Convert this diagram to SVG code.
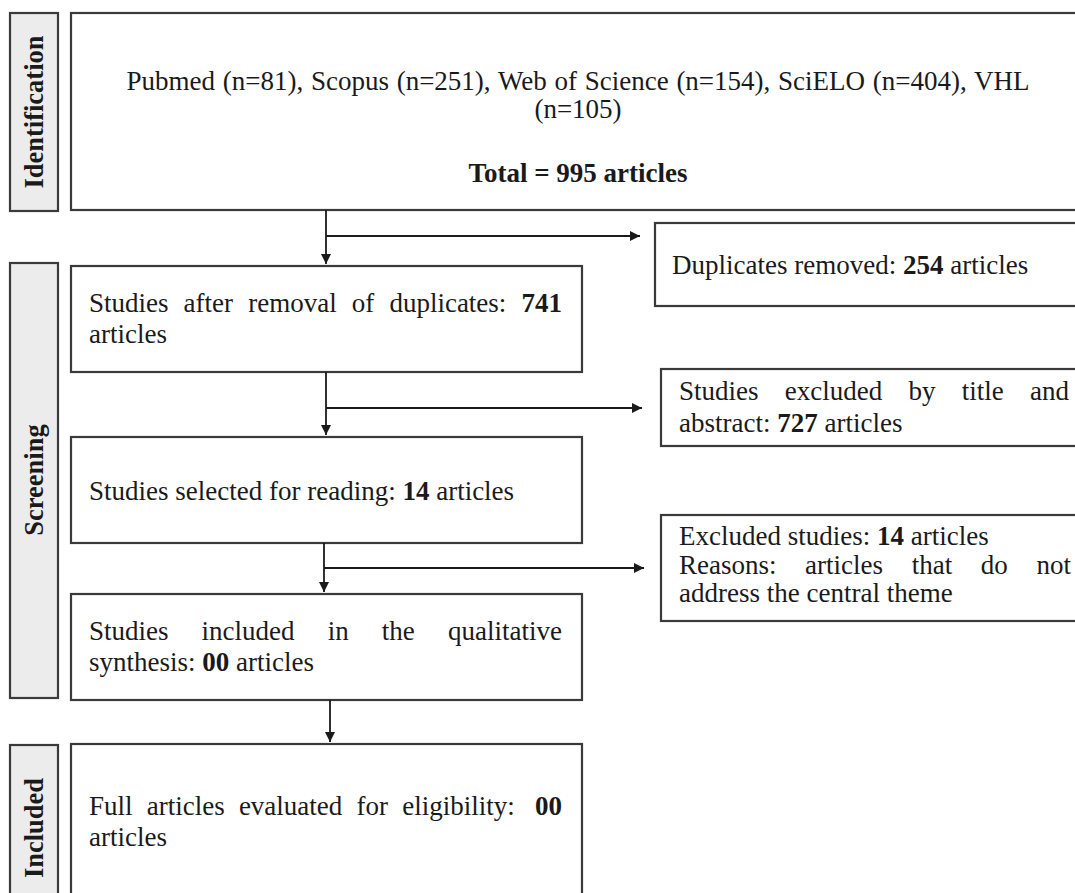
<svg xmlns="http://www.w3.org/2000/svg" width="1075" height="893" viewBox="0 0 1075 893">
<defs>
<style>
.box{fill:#fff;stroke:#3a3a3a;stroke-width:2.2}
.lab{fill:#ececec;stroke:#3a3a3a;stroke-width:2.2}
.t{font-family:"Liberation Serif","Times New Roman",serif;font-size:27px;fill:#1a1a1a}
.b{font-weight:bold}
.lt{font-family:"Liberation Serif","Times New Roman",serif;font-size:26.5px;font-weight:bold;fill:#1a1a1a}
.c{fill:none;stroke:#1a1a1a;stroke-width:1.8}
</style>
<marker id="ah" viewBox="0 0 10 10" refX="10" refY="5" markerWidth="10" markerHeight="10" markerUnits="userSpaceOnUse" orient="auto">
<path d="M0,0 L10,5 L0,10 Z" fill="#1a1a1a"/>
</marker>
</defs>
<rect width="1075" height="893" fill="#fff"/>

<g id="label-identification">
<rect class="lab" x="10" y="13" width="48" height="198"/>
<text class="lt" transform="translate(43,112) rotate(-90)" text-anchor="middle">Identification</text>
</g>
<g id="label-screening">
<rect class="lab" x="10" y="263" width="48" height="435"/>
<text class="lt" transform="translate(43,480) rotate(-90)" text-anchor="middle">Screening</text>
</g>
<g id="label-included">
<rect class="lab" x="10" y="745" width="48" height="170"/>
<text class="lt" transform="translate(43,828) rotate(-90)" text-anchor="middle">Included</text>
</g>

<g id="identification">
<rect class="box" x="71" y="13" width="1014" height="197"/>
<text class="t" x="578" y="90" text-anchor="middle" word-spacing="1">Pubmed (n=81), Scopus (n=251), Web of Science (n=154), SciELO (n=404), VHL</text>
<text class="t" x="578" y="118" text-anchor="middle">(n=105)</text>
<text class="t b" x="578" y="182" text-anchor="middle">Total = 995 articles</text>
</g>

<g id="duplicates">
<rect class="box" x="655" y="223" width="430" height="83"/>
<text class="t" x="672" y="274">Duplicates removed: <tspan class="b">254</tspan> articles</text>
</g>

<g id="after-duplicates">
<rect class="box" x="71" y="266" width="511" height="106"/>
<text class="t" y="312"><tspan x="89">Studies</tspan><tspan x="183.6">after</tspan><tspan x="248.2">removal</tspan><tspan x="351.8">of</tspan><tspan x="389.4">duplicates:</tspan><tspan x="521.5" class="b">741</tspan></text>
<text class="t" x="89" y="343">articles</text>
</g>

<g id="excluded-title">
<rect class="box" x="661" y="369" width="430" height="77"/>
<text class="t" y="400"><tspan x="679">Studies</tspan><tspan x="784.7">excluded</tspan><tspan x="908.5">by</tspan><tspan x="961.8">title</tspan><tspan x="1030">and</tspan></text>
<text class="t" x="679" y="432">abstract: <tspan class="b">727</tspan> articles</text>
</g>

<g id="selected">
<rect class="box" x="71" y="437" width="511" height="106"/>
<text class="t" x="89" y="500">Studies selected for reading: <tspan class="b">14</tspan> articles</text>
</g>

<g id="excluded-studies">
<rect class="box" x="661" y="515" width="430" height="106"/>
<text class="t" x="679" y="545">Excluded studies: <tspan class="b">14</tspan> articles</text>
<text class="t" y="574"><tspan x="679">Reasons:</tspan><tspan x="805.1">articles</tspan><tspan x="911.7">that</tspan><tspan x="980.8">do</tspan><tspan x="1036.5">not</tspan></text>
<text class="t" x="679" y="602">address the central theme</text>
</g>

<g id="qualitative">
<rect class="box" x="71" y="594" width="511" height="106"/>
<text class="t" y="640"><tspan x="89">Studies</tspan><tspan x="201.6">included</tspan><tspan x="327.7">in</tspan><tspan x="381.8">the</tspan><tspan x="448">qualitative</tspan></text>
<text class="t" x="89" y="671">synthesis: <tspan class="b">00</tspan> articles</text>
</g>

<g id="eligibility">
<rect class="box" x="71" y="744" width="511" height="170"/>
<text class="t" y="815"><tspan x="89">Full</tspan><tspan x="146.7">articles</tspan><tspan x="238.9">evaluated</tspan><tspan x="356.6">for</tspan><tspan x="402.3">eligibility:</tspan><tspan x="535" class="b">00</tspan></text>
<text class="t" x="89" y="846">articles</text>
</g>

<g id="connectors">
<path class="c" d="M326,210 V264" marker-end="url(#ah)"/>
<path class="c" d="M326,236 H640" marker-end="url(#ah)"/>
<path class="c" d="M326,372 V435" marker-end="url(#ah)"/>
<path class="c" d="M326,408 H642" marker-end="url(#ah)"/>
<path class="c" d="M324,543 V592" marker-end="url(#ah)"/>
<path class="c" d="M324,568 H644" marker-end="url(#ah)"/>
<path class="c" d="M330,700 V742" marker-end="url(#ah)"/>
</g>
</svg>
